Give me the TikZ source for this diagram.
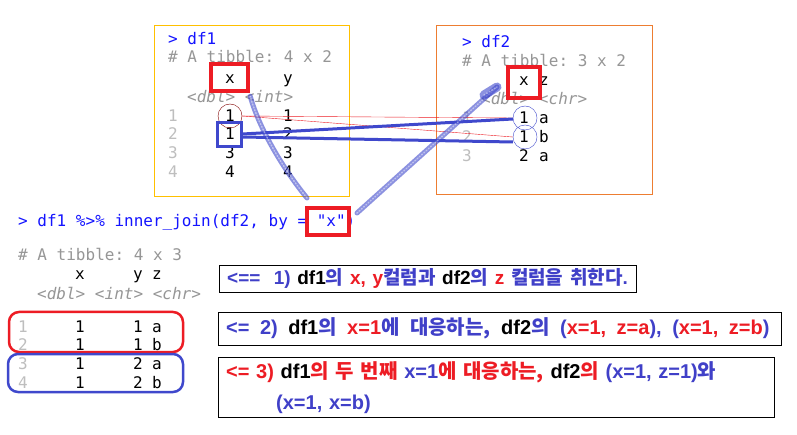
\documentclass[tikz,border=0pt]{standalone}
\usepackage{fontspec}
\usepackage{tikz}
\setmonofont{DejaVu Sans Mono}
\setsansfont{Liberation Sans}
\newfontfamily\krfont{Noto Sans CJK KR Bold}
\usetikzlibrary{arrows}
\definecolor{cprompt}{RGB}{20,20,255}
\definecolor{cmeta}{RGB}{150,150,150}
\definecolor{cidx}{RGB}{190,190,190}
\definecolor{cred}{RGB}{237,28,36}
\definecolor{cdred}{RGB}{128,0,0}
\definecolor{cpen}{RGB}{63,72,204}
\definecolor{ctxt}{RGB}{64,64,200}
\definecolor{cgold}{RGB}{255,192,0}
\definecolor{corange}{RGB}{237,125,49}
\newcommand{\mono}{\ttfamily\fontsize{16}{19}\selectfont}
\newcommand{\blu}[1]{\textcolor{ctxt}{#1}}
\newcommand{\rd}[1]{\textcolor{cred}{#1}}
\newcommand{\kblu}[1]{\textcolor{ctxt}{\krfont #1}}
\newcommand{\krd}[1]{\textcolor{cred}{\krfont #1}}

\begin{document}
\begin{tikzpicture}[x=1pt,y=-1pt,
  prompt/.style={anchor=base west,inner sep=0,text=cprompt,font=\mono},
  meta/.style={anchor=base west,inner sep=0,text=cmeta,font=\mono},
  type/.style={anchor=base west,inner sep=0,text=cmeta,font=\mono\itshape},
  cell/.style={anchor=base,inner sep=0,font=\mono},
  idx/.style={anchor=base,inner sep=0,text=cidx,font=\mono},
  red box/.style={draw=cred,line width=4.5pt,inner sep=0},
  note box/.style={draw,thin,anchor=north west,inner xsep=8pt,align=left,
    font=\sffamily\bfseries\fontsize{20}{31}\selectfont},
  pencil/.style={draw=cpen,line width=5pt,line cap=round,opacity=0.6,
    postaction={draw=white,line width=1.5pt,dash pattern=on 1pt off 2pt,opacity=0.45}}]
  \fill[white] (0,0) rectangle (797,435);
  \useasboundingbox (0,0) rectangle (797,435);

  % df1
  \draw[cgold] (154,25) rectangle (349,196);
  \node[prompt] (d1p) at (168,45) {> df1};
  \node[meta] (d1m) at (168,63) {\# A tibble: 4 x 2};
  \node[cell] (d1hx) at (230,84) {x};
  \node[cell] (d1hy) at (288,84) {y};
  \node[type] (d1t) at (187,103) {<dbl> <int>};
  \foreach \i/\x/\y/\yy in {1/1/1/122,2/1/2/140,3/3/3/159,4/4/4/178}{
    \node[idx] (d1i\i) at (173,\yy) {\i};
    \node[cell] (d1x\i) at (230,\yy) {\x};
    \node[cell] (d1y\i) at (288,\yy) {\y};
  }
  \node[red box,minimum width=37pt,minimum height=27pt] (d1x) at (229.5,77.5) {};
  \node[circle,draw=cdred,thin,minimum size=24pt] (d1c) at (230,116) {};
  \node[draw=cpen,line width=3pt,minimum size=24pt] (d1b) at (229,135) {};

  % df2
  \draw[corange] (436,25) rectangle (652,194);
  \node[prompt] (d2p) at (462,48) {> df2};
  \node[meta] (d2m) at (462,67) {\# A tibble: 3 x 2};
  \node[cell] (d2hx) at (524,86) {x};
  \node[cell] (d2hz) at (544,86) {z};
  \node[type] (d2t) at (481,105) {<dbl> <chr>};
  \foreach \i/\x/\z/\yy in {1/1/a/124,2/1/b/143,3/2/a/162}{
    \node[idx] (d2i\i) at (467,\yy) {\i};
    \node[cell] (d2x\i) at (524,\yy) {\x};
    \node[cell] (d2z\i) at (544,\yy) {\z};
  }
  \node[red box,minimum width=32pt,minimum height=31pt] (d2x) at (524,82.5) {};
  \node[circle,draw=cpen,thin,minimum size=24pt] (d2a) at (525,118) {};
  \node[circle,draw=cpen,thin,minimum size=24pt] (d2b) at (525,137) {};

  % matching rows
  \draw[cred,thin] (d1c.east) -- (d2a.west);
  \draw[cred,thin] (d1c.east) -- (d2b.west);
  \draw[cpen,line width=3pt] ([yshift=1pt]d1b.east) -- ([yshift=-1pt]d2a.west);
  \draw[cpen,line width=3pt] ([yshift=-2pt]d1b.east) -- ([yshift=-5pt]d2b.west);

  % inner_join result
  \node[prompt] (jp) at (18,227) {> df1 \%>\% inner\_join(df2, by = "x")};
  \node[red box,minimum width=42pt,minimum height=27pt] (jx) at (328,221.5) {};
  \node[meta] (jm) at (18,261) {\# A tibble: 4 x 3};
  \node[cell] (jhx) at (80,280) {x};
  \node[cell] (jhy) at (138,280) {y};
  \node[cell] (jhz) at (157,280) {z};
  \node[type] (jt) at (37,300) {<dbl> <int> <chr>};
  \foreach \i/\y/\z/\yy in {1/1/a/332,2/1/b/350,3/2/a/369,4/2/b/388}{
    \node[idx] (ji\i) at (23,\yy) {\i};
    \node[cell] (jx\i) at (80,\yy) {1};
    \node[cell] (jy\i) at (138,\yy) {\y};
    \node[cell] (jz\i) at (157,\yy) {\z};
  }
  \draw[cred,line width=2.5pt,rounded corners=10pt] (9,312) rectangle (183,352);
  \draw[cpen,line width=2.5pt,rounded corners=10pt] (8,354) rectangle (183,392);

  % hand-drawn strokes
  \coordinate (p1s) at (307,198);
  \coordinate (p2s) at (357,213);
  \coordinate (p2e) at (497,87);
  \draw[pencil] (p1s) .. controls (280,165) and (258,125) .. ([yshift=-3pt]d1x.south east);
  \draw[pencil] (p2s) -- (p2e);
  \draw[pencil,line width=9pt] (484,95) -- (p2e);

  % notes
  \node[note box,minimum width=417pt,minimum height=27pt,text width=401pt] (n1) at (219,265)
    {\fontsize{19}{31}\selectfont\mbox{\blu{<==~ 1)} df1\kblu{의} \rd{x, y}\kblu{컬럼과} df2\kblu{의} \rd{z} \kblu{컬럼을 취한다}\blu{.}}};
  \node[note box,minimum width=563pt,minimum height=33pt,text width=547pt] (n2) at (218,312)
    {\spaceskip=10.5pt\mbox{\blu{<= 2)} df1\kblu{의} \rd{x=1}\kblu{에 대응하는,} df2\kblu{의} \blu{(}\rd{x=1, z=a}\blu{), (}\rd{x=1, z=b}\blu{)}}};
  \node[note box,minimum width=556pt,minimum height=60pt,text width=540pt] (n3) at (218,357)
    {\rd{<= 3)} df1\krd{의 두 번째} \blu{x=1}\krd{에 대응하는,} df2\krd{의} \blu{(x=1, z=1)}\kblu{와}\\
     \hspace*{50pt}\blu{(x=1, x=b)}};
\end{tikzpicture}
\end{document}
